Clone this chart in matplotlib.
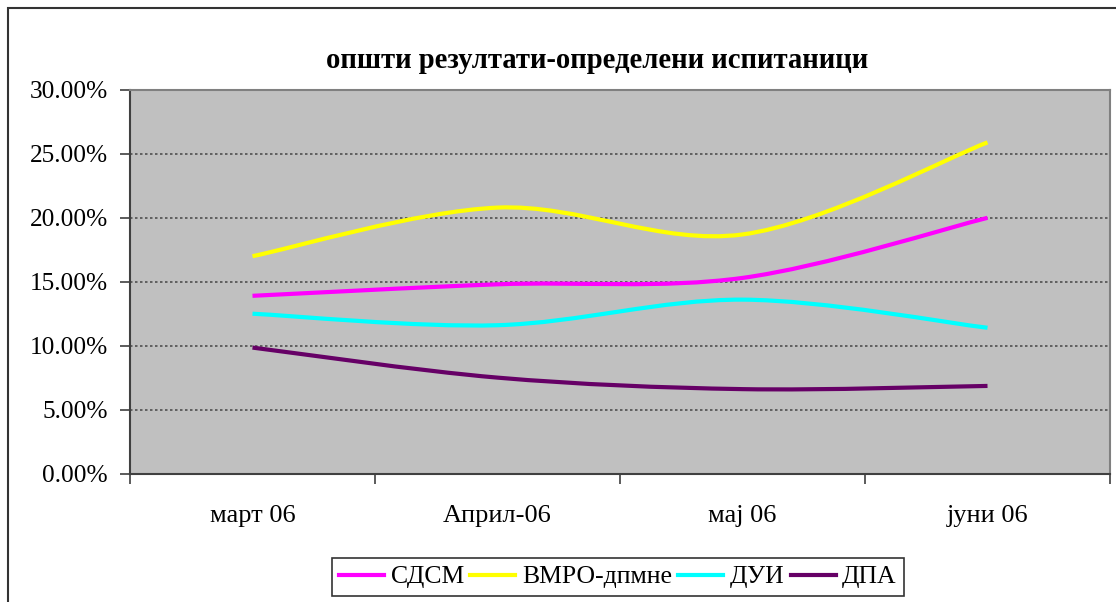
import numpy as np
from matplotlib import pyplot as plt
from matplotlib.path import Path
from matplotlib.patches import PathPatch, Rectangle
from matplotlib.lines import Line2D
from matplotlib.ticker import PercentFormatter, FixedLocator

plt.rcParams['font.family'] = ['Liberation Serif', 'DejaVu Serif']

months = ['март 06', 'Април-06', 'мај 06', 'јуни 06']
sdsm = [13.9, 14.8, 15.3, 20.0]
vmro = [17.0, 20.8, 18.7, 25.9]
dui = [12.5, 11.6, 13.6, 11.4]
dpa = [9.85, 7.5, 6.6, 6.85]

series_names = ['СДСМ', 'ВМРО-дпмне', 'ДУИ', 'ДПА']
series_colors = ['#FF00FF', '#FFFF00', '#00FFFF', '#660066']


def smooth_path(xs, ys):
    # excel-like smoothed line: catmull-rom as cubic beziers
    pts = np.column_stack([xs, ys]).astype(float)
    ext = np.vstack([pts[0], pts, pts[-1]])
    verts = [pts[0]]
    codes = [Path.MOVETO]
    for i in range(len(pts) - 1):
        p0, p1, p2, p3 = ext[i], ext[i + 1], ext[i + 2], ext[i + 3]
        verts += [p1 + (p2 - p0) / 6, p2 - (p3 - p1) / 6, p2]
        codes += [Path.CURVE4] * 3
    return Path(verts, codes)


fig = plt.figure(figsize=(11.16, 6.02), dpi=100)
W, H = 1116, 602
ax = fig.add_axes([130 / W, 1 - 473.5 / H, 980 / W, 383.5 / H])
ax.set_facecolor('#C0C0C0')

x = np.arange(len(months))
for vals, col in zip([sdsm, vmro, dui, dpa], series_colors):
    ax.add_patch(PathPatch(smooth_path(x, vals), facecolor='none',
                           edgecolor=col, lw=3, capstyle='butt', zorder=3))

ax.set_xlim(-0.5, 3.5)
ax.set_ylim(0, 30)
ax.yaxis.set_major_locator(FixedLocator(np.arange(0, 31, 5)))
ax.yaxis.set_major_formatter(PercentFormatter(decimals=2))
ax.set_xticks(x)
ax.set_xticklabels(months)
ax.xaxis.set_minor_locator(FixedLocator(np.arange(-0.5, 3.6, 1)))
ax.tick_params(axis='x', which='major', length=0, pad=23, labelsize=19)
ax.tick_params(axis='x', which='minor', length=7, width=1.2, color='#404040',
               direction='out')
ax.tick_params(axis='y', length=7, width=1.2, color='#404040', labelsize=18.3,
               pad=9)

ax.grid(axis='y', linestyle=(0, (1.5, 1.5)), color='#505050', lw=1.2)
ax.set_axisbelow(True)
for side in ['left', 'bottom']:
    ax.spines[side].set_color('#404040')
    ax.spines[side].set_linewidth(1.5)
for side in ['top', 'right']:
    ax.spines[side].set_color('#808080')
    ax.spines[side].set_linewidth(1.5)

fig.text(597 / W, 1 - 61 / H, 'општи резултати-определени испитаници',
         ha='center', va='center', fontsize=20.6, fontweight='bold')

handles = [Line2D([], [], color=c, lw=3) for c in series_colors]
leg = fig.legend(handles, series_names, loc='center', ncol=4,
                 bbox_to_anchor=(618 / W, 1 - 577 / H), fontsize=18.5,
                 frameon=True, fancybox=False, handlelength=1.75,
                 handletextpad=0.25, columnspacing=0.25, borderpad=0.3,
                 borderaxespad=0)
leg.get_frame().set_edgecolor('black')
leg.get_frame().set_linewidth(1.2)

# outer chart border
fig.patches.append(Rectangle((8 / W, -0.1), 1.2, 1.1 - 8 / H,
                             transform=fig.transFigure, fill=False,
                             edgecolor='#333333', lw=1.5))

fig.savefig('out.png', dpi=100)
